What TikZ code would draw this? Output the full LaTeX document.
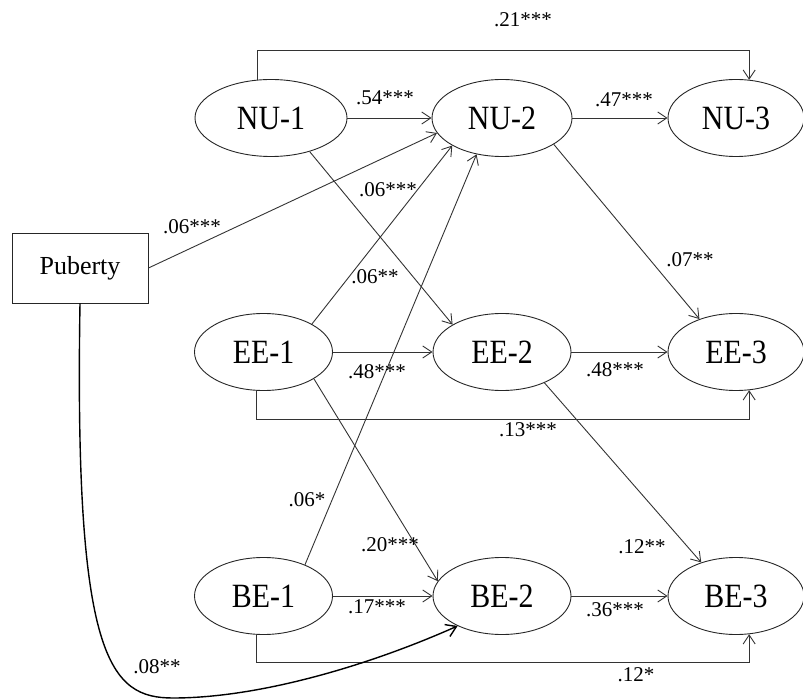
\documentclass[tikz,border=0pt]{standalone}
\usepackage{fontspec}
\setmainfont{Liberation Serif}
\newfontfamily\latfont[FakeStretch=0.88]{Liberation Serif}
\usetikzlibrary{shapes.geometric,arrows.meta}
\begin{document}
\begin{tikzpicture}[x=1pt,y=-1pt,
  lat/.style={draw=black!85,line width=0.9pt,ellipse,minimum width=138pt,minimum height=77pt,inner sep=0pt,font=\latfont\fontsize{34}{40}\selectfont},
  obs/.style={draw=black!85,line width=0.9pt,rectangle,minimum width=136pt,minimum height=70pt,inner sep=0pt,font=\fontsize{26}{30}\selectfont},
  lbl/.style={font=\fontsize{21}{25}\selectfont,inner sep=0pt},
  conn/.style={draw=black!80,line width=0.9pt,-{Straight Barb[length=9pt,width=12pt]}},
  curvy/.style={draw=black,line width=1.4pt,-{Straight Barb[length=10pt,width=13pt]}}
]
\useasboundingbox (0,0) rectangle (803,700);

% nodes
\node[lat,minimum width=152pt] (nu1) at (271,118) {NU-1};
\node[lat,minimum width=140pt] (nu2) at (502,118) {NU-2};
\node[lat,minimum width=136pt] (nu3) at (736,118) {NU-3};
\node[obs] (pub) at (80,268) {Puberty};
\node[lat] (ee1) at (263.5,352) {EE-1};
\node[lat] (ee2) at (502,352) {EE-2};
\node[lat,minimum width=136pt] (ee3) at (736,352) {EE-3};
\node[lat] (be1) at (263.5,596) {BE-1};
\node[lat] (be2) at (502,596) {BE-2};
\node[lat,minimum width=136pt] (be3) at (736,596) {BE-3};

\coordinate (topy) at (0,50);
\coordinate (eey) at (0,419);
\coordinate (bey) at (0,662);

% horizontal paths
\draw[conn] (nu1.east) -- (nu2.west);
\draw[conn] (nu2.east) -- (nu3.west);
\draw[conn] (ee1.east) -- (ee2.west);
\draw[conn] (ee2.east) -- (ee3.west);
\draw[conn] (be1.east) -- (be2.west);
\draw[conn] (be2.east) -- (be3.west);

% brackets
\draw[conn] (nu1.110) -- (nu1.110 |- topy) -| (nu3.71);
\draw[conn] (ee1.260) -- (ee1.260 |- eey) -| (ee3.289);
\draw[conn] (be1.260) -- (be1.260 |- bey) -| (be3.289);

% cross-lagged
\draw[conn] (nu1.-41) -- (ee2.151);
\draw[conn] (pub.east) -- (nu2.193);
\draw[conn] (ee1.30) -- (nu2.209);
\draw[conn] (be1.37) -- (nu2.235);
\draw[conn] (ee1.-28) -- (be2.167);
\draw[conn] (ee2.-36) -- (be3.136);
\draw[conn] (nu2.-27.5) -- (ee3.138.6);

% puberty curve
\draw[curvy] (pub.south) .. controls (74,660) and (110,698) .. (173,698)
  .. controls (260,698) and (370,665) .. (be2.214);

% labels
\node[lbl] at (523,20) {.21***};
\node[lbl] at (385,98) {.54***};
\node[lbl] at (624,100) {.47***};
\node[lbl] at (192,227) {.06***};
\node[lbl] at (388,190) {.06***};
\node[lbl] at (375,277) {.06**};
\node[lbl] at (690,260) {.07**};
\node[lbl] at (377,372) {.48***};
\node[lbl] at (615,370) {.48***};
\node[lbl] at (528,430) {.13***};
\node[lbl] at (307,500) {.06*};
\node[lbl] at (390,545) {.20***};
\node[lbl] at (642,547) {.12**};
\node[lbl] at (377,607) {.17***};
\node[lbl] at (615,610) {.36***};
\node[lbl] at (636,675) {.12*};
\node[lbl] at (157,667) {.08**};
\end{tikzpicture}
\end{document}
